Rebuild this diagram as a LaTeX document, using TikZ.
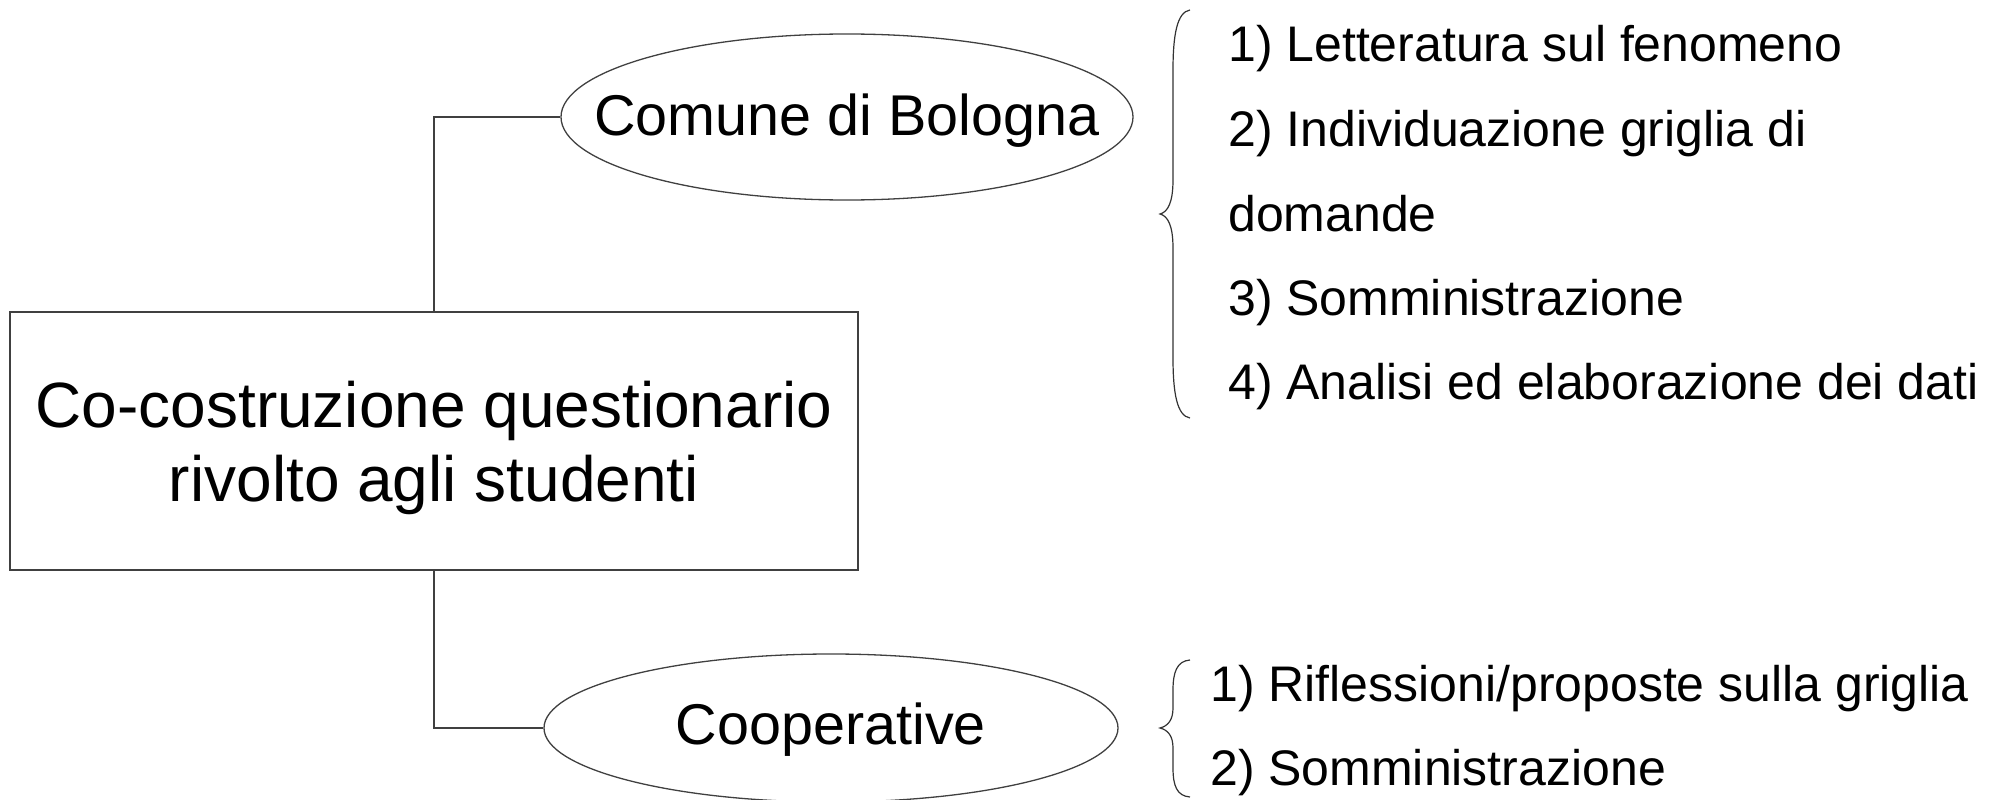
\documentclass[tikz,border=0pt]{standalone}
\usepackage{fontspec}
\setmainfont{Liberation Sans}
\usetikzlibrary{shapes.geometric}
\begin{document}
\begin{tikzpicture}[x=1pt,y=-1pt,
  line/.style={draw=black!75,line width=1.3pt},
  mainbox/.style={line,rectangle,inner sep=0pt,minimum width=848pt,minimum height=258pt},
  maintext/.style={align=center,inner sep=0pt,font=\fontsize{64}{74}\selectfont},
  oval/.style={line,ellipse,inner sep=0pt},
  ovaltext/.style={inner sep=0pt,font=\fontsize{57.5}{66}\selectfont},
  item/.style={anchor=base west,inner sep=0pt,font=\fontsize{50}{60}\selectfont},
  bracestyle/.style={draw=black!80,line width=1.2pt}]
\useasboundingbox (0,0) rectangle (1998,800);
\node[mainbox] (main) at (434,441) {};
\node[maintext] (maint) at (434,448) {Co-costruzione questionario\\rivolto agli studenti};
\node[oval,minimum width=572pt,minimum height=166pt] (bol) at (847,117) {};
\node[ovaltext] (bolt) at (847,121) {Comune di Bologna};
\node[oval,minimum width=574pt,minimum height=148pt] (coop) at (831,728) {};
\node[ovaltext] (coopt) at (831,730) {Cooperative};
\draw[line] (main.north) |- (bol.west);
\draw[line] (main.south) |- (coop.west);
% top brace
\draw[bracestyle] (1190,10) .. controls (1177,12) and (1173,35) .. (1173,70) -- (1173,180)
  .. controls (1173,202) and (1168,212) .. (1160,214)
  .. controls (1168,216) and (1173,226) .. (1173,248) -- (1173,358)
  .. controls (1173,393) and (1177,416) .. (1190,418);
% bottom brace
\draw[bracestyle] (1190,660) .. controls (1177,661) and (1173,672) .. (1173,690) -- (1173,708)
  .. controls (1173,720) and (1168,726) .. (1160,728)
  .. controls (1168,730) and (1173,736) .. (1173,748) -- (1173,768)
  .. controls (1173,786) and (1177,796) .. (1190,797);
\node[item] (l1) at (1228,62) {1) Letteratura sul fenomeno};
\node[item] (l2) at (1228,146) {2) Individuazione griglia di};
\node[item] (l3) at (1228,231) {domande};
\node[item] (l4) at (1228,315) {3) Somministrazione};
\node[item] (l5) at (1228,399) {4) Analisi ed elaborazione dei dati};
\node[item] (c1) at (1210,701) {1) Riflessioni/proposte sulla griglia};
\node[item] (c2) at (1210,785) {2) Somministrazione};
\end{tikzpicture}
\end{document}
